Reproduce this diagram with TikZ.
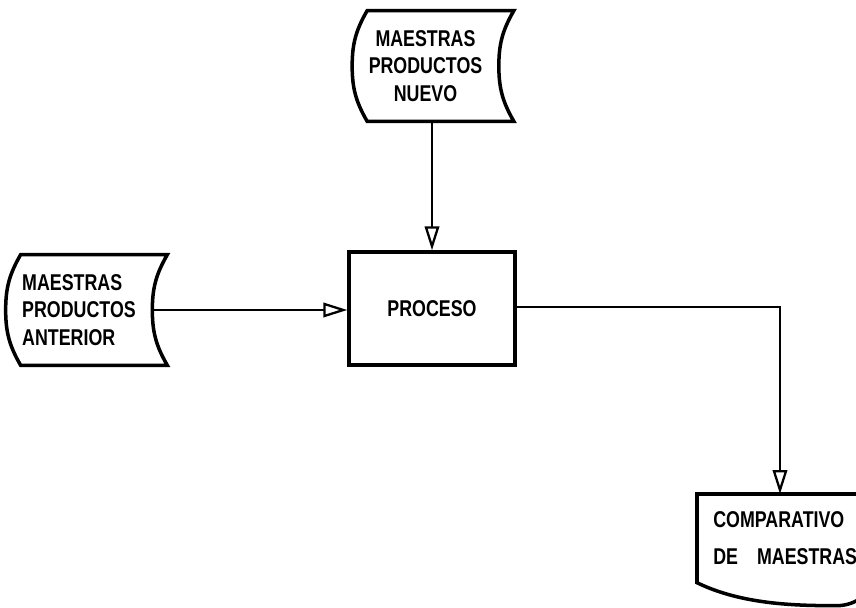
\documentclass[tikz,border=0pt]{standalone}
\usepackage{fontspec}
\newfontfamily\diagfont[FakeStretch=0.78]{Liberation Sans}
\usetikzlibrary{arrows.meta, positioning, calc}

\begin{document}
\begin{tikzpicture}[
    x=0.02cm, y=0.02cm,
    font=\diagfont\bfseries\fontsize{13}{15.5}\selectfont,
    store/.style={
        rectangle,
        minimum width=2.92cm,
        minimum height=2.2cm,
        inner sep=0pt,
        align=center
    },
    proc/.style={
        draw=black,
        rectangle,
        minimum width=3.32cm,
        minimum height=2.26cm,
        inner sep=0pt,
        line width=2pt
    },
    report/.style={
        rectangle,
        anchor=north west,
        minimum width=3.7cm,
        minimum height=1.76cm,
        inner xsep=0.32cm,
        text width=3.06cm,
        align=left
    },
    outline/.style={
        line width=2pt,
        draw=black
    },
    arrow/.style={
        -{Triangle[open,length=4.8mm,width=2.9mm]},
        line width=1.3pt,
        draw=black
    }
]

\useasboundingbox[fill=white] (0,0) rectangle (856,-608);

% ============================================================
% Files and process
% ============================================================

\node[store] (nuevo)    at (425.5,-66) {MAESTRAS\\PRODUCTOS\\NUEVO};
\node[store, align=left] (anterior) at (79,-310) {MAESTRAS\\PRODUCTOS\\ANTERIOR};
\node[proc]  (proceso)  at (432,-308.5) {PROCESO};
\node[report] (comparativo) at (697,-494)
    {COMPARATIVO\\[0.2cm]DE\hspace{0.5em} MAESTRAS};

% stored data outlines: bulging left side, hollow right side
\foreach \n in {nuevo,anterior} {
    \draw[outline]
        ([xshift=0.3cm]\n.north west) to[out=240,in=90] (\n.west)
        to[out=-90,in=120] ([xshift=0.3cm]\n.south west)
        -- ([xshift=0.3cm]\n.south east) to[out=120,in=-90] (\n.east)
        to[out=90,in=240] ([xshift=0.3cm]\n.north east) -- cycle;
}

% printed report, wavy bottom runs off the page
\draw[outline]
    (comparativo.south west)
    .. controls +(45,-22) and +(-40,0) .. ([xshift=-0.92cm,yshift=-0.46cm]comparativo.south east)
    .. controls +(20,0) and +(-15,-10) .. (comparativo.south east)
    -- (comparativo.north east) -- (comparativo.north west) -- cycle;

% ============================================================
% Connectors
% ============================================================

\draw[arrow] (proceso.north |- nuevo.south) -- (proceso.north);
\draw[arrow] (anterior.east) -- (anterior.east -| proceso.west);
\draw[arrow] ([yshift=0.03cm]proceso.east) -| ([xshift=1.66cm]comparativo.north west);
\end{tikzpicture}
\end{document}
